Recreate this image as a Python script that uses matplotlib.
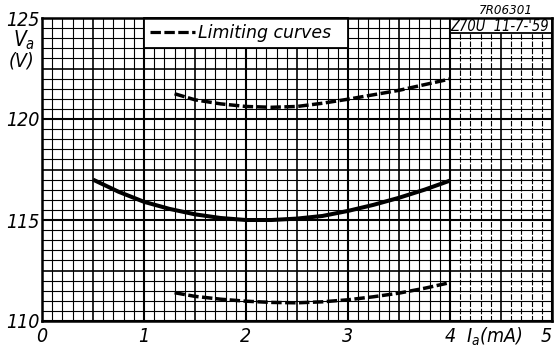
import matplotlib
matplotlib.use("Agg")
import matplotlib.pyplot as plt
from matplotlib.lines import Line2D
from matplotlib.patches import Rectangle
import numpy as np

# ---- data ----
x_main = [0.5, 0.75, 1.0, 1.25, 1.5, 1.75, 2.0, 2.25, 2.5, 2.75, 3.0, 3.25, 3.5, 3.75, 4.0]
va_main = [117.0, 116.4, 115.9, 115.55, 115.28, 115.1, 115.0, 115.0, 115.07, 115.2, 115.45, 115.75, 116.1, 116.5, 116.95]

x_lim = [1.3, 1.5, 1.75, 2.0, 2.25, 2.5, 2.75, 3.0, 3.25, 3.5, 3.75, 4.0]
va_upper = [121.25, 120.95, 120.75, 120.62, 120.58, 120.62, 120.78, 120.98, 121.2, 121.42, 121.7, 121.98]
va_lower = [111.4, 111.22, 111.08, 110.98, 110.92, 110.9, 110.95, 111.05, 111.2, 111.38, 111.62, 111.9]

x_ticks = [0, 1, 2, 3, 4, 5]
x_tick_labels = ["0", "1", "2", "3", "4", "5"]
y_ticks = [110, 115, 120, 125]
y_tick_labels = ["110", "115", "120", "125"]

legend_label = "Limiting curves"
stamp_text = "Z70U  11-7-'59"
ref_text = "7R06301"

# ---- style ----
plt.rcParams['lines.scale_dashes'] = False
plt.rcParams['mathtext.fontset'] = 'custom'
plt.rcParams['mathtext.it'] = 'DejaVu Sans:style=oblique:stretch=condensed'
plt.rcParams['mathtext.rm'] = 'DejaVu Sans:style=oblique:stretch=condensed'
cond = dict(family='DejaVu Sans', style='oblique', stretch='condensed')

fig = plt.figure(figsize=(5.55, 3.51), dpi=100)
ax = fig.add_axes([42/555, 1-321/351, 510/555, 303/351])
ax.set_xlim(0, 5)
ax.set_ylim(110, 125)

# grid: minor 0.1 mA / 0.5 V, medium 0.5 mA / 2.5 V, major 1 mA / 5 V
for xv in np.arange(0, 5.0001, 0.1):
    r = round(xv * 10)
    if r % 10 == 0:
        ax.axvline(xv, color='black', lw=1.5, zorder=1)
    elif r % 5 == 0:
        ax.axvline(xv, color='black', lw=1.2, zorder=1)
    elif xv > 4:
        ax.axvline(xv, color='black', lw=0.8, linestyle=(0, (4, 1.2)), zorder=1)
    else:
        ax.axvline(xv, color='black', lw=0.8, zorder=1)
for yv in np.arange(110, 125.0001, 0.5):
    r = round(yv * 2)
    if r % 10 == 0:
        lw = 1.5
    elif r % 5 == 0:
        lw = 1.2
    else:
        lw = 0.8
    ax.axhline(yv, color='black', lw=lw, zorder=1)

# curves
ax.plot(x_main, va_main, color='black', lw=2.9, solid_capstyle='butt', zorder=3)
dash = (0, (7.5, 2.5))
ax.plot(x_lim, va_upper, color='black', lw=2.5, linestyle=dash, zorder=3)
ax.plot(x_lim, va_lower, color='black', lw=2.5, linestyle=dash, zorder=3)

# legend box
leg_handle = Line2D([], [], color='black', lw=2.3, linestyle=dash)
leg = ax.legend([leg_handle], [legend_label], loc='upper left',
                bbox_to_anchor=(0.2, 0.0, 0.4, 1.0), mode='expand',
                borderaxespad=0, frameon=True, fancybox=False,
                handlelength=2.6, handletextpad=0.15, borderpad=0.35,
                prop=dict(family='DejaVu Sans', style='oblique', size=12.5))
leg.get_frame().set_edgecolor('black')
leg.get_frame().set_linewidth(1.3)
leg.get_frame().set_alpha(1)
leg.set_zorder(5)

# stamp box at top right
ax.add_patch(Rectangle((4.0, 124.25), 1.0, 0.75, facecolor='white',
                       edgecolor='black', lw=1.3, zorder=4))
ax.text(4.97, 124.6, stamp_text, ha='right', va='center', zorder=6,
        size=10.5, **cond)
fig.text(506/555, 1-10/351, ref_text, ha='center', va='center',
         size=9.5, **cond)

# ticks
ax.set_xticks(x_ticks)
ax.set_xticklabels(x_tick_labels, size=14, **cond)
ax.set_yticks(y_ticks)
ax.set_yticklabels(y_tick_labels, size=14, **cond)
ax.get_xticklabels()[-1].set_horizontalalignment('right')
ax.tick_params(length=0)
ax.tick_params(axis='x', pad=4)
ax.tick_params(axis='y', pad=2)
for sp in ax.spines.values():
    sp.set_linewidth(1.8)
    sp.set_zorder(7)

# axis labels
fig.text(24/555, 1-40/351, r'$V_a$', ha='center', va='center', size=15)
fig.text(22/555, 1-61/351, '(V)', ha='center', va='center', size=14, **cond)
fig.text(494/555, 1-337/351, r'$I_a$(mA)', ha='center', va='center',
         size=14, **cond)

fig.savefig('out.png', dpi=100)
